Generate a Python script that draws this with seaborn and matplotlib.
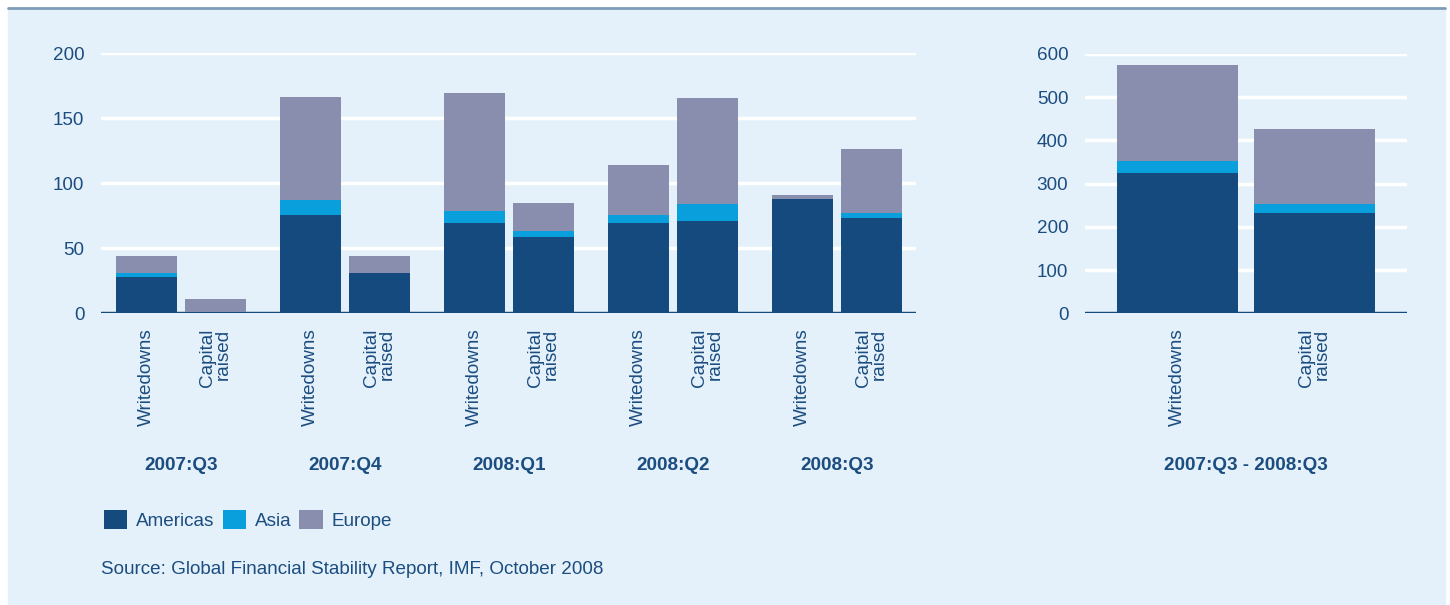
import numpy as np
import pandas as pd
import seaborn as sns
import matplotlib.pyplot as plt
from matplotlib.patches import Rectangle, Patch
from matplotlib.lines import Line2D
import matplotlib.transforms as mtransforms

# data (US$ billions)
quarters = ['2007:Q3', '2007:Q4', '2008:Q1', '2008:Q2', '2008:Q3']
kinds = ['Writedowns', 'Capital\nraised']
americas_wd = [28, 76, 69.5, 69.5, 88]
asia_wd = [3, 11, 9, 6, 0]
europe_wd = [13, 79, 91, 38.5, 3]
americas_cr = [1, 31, 59, 71, 73]
asia_cr = [0, 0, 4, 13, 4]
europe_cr = [10, 13, 22, 81.5, 49]

total_label = '2007:Q3 - 2008:Q3'
americas_tot = [325, 231]
asia_tot = [28, 23]
europe_tot = [222, 173]

regions = ['Americas', 'Asia', 'Europe']
C_AM = '#154a7e'
C_AS = '#089fdc'
C_EU = '#898dae'
BG = '#e4f1fa'
TXT = '#1c4d80'
FS = 13.6

sns.set_style('white')
plt.rcParams['font.family'] = ['Liberation Sans', 'DejaVu Sans']
plt.rcParams['font.size'] = FS

df = pd.DataFrame({
    'quarter': quarters * 2,
    'kind': [kinds[0]] * 5 + [kinds[1]] * 5,
    'Americas': americas_wd + americas_cr,
    'Asia': asia_wd + asia_cr,
    'Europe': europe_wd + europe_cr,
})
df['low'] = df['Americas']
df['mid'] = df['Americas'] + df['Asia']
df['top'] = df['mid'] + df['Europe']

tot = pd.DataFrame({'kind': kinds, 'Americas': americas_tot,
                    'Asia': asia_tot, 'Europe': europe_tot})
tot['low'] = tot['Americas']
tot['mid'] = tot['Americas'] + tot['Asia']
tot['top'] = tot['mid'] + tot['Europe']

fig = plt.figure(figsize=(14.5, 6.05), dpi=100, facecolor='white')
fig.patches.append(Rectangle((8 / 1450, 0), 1437 / 1450, 597 / 605,
                             transform=fig.transFigure, color=BG, zorder=-10))
fig.lines.append(Line2D([8 / 1450, 1445 / 1450], [597.5 / 605, 597.5 / 605],
                        transform=fig.transFigure, color='#7d9cb9', lw=2))

ax1 = fig.add_axes([101 / 1450, 291.7 / 605, 815 / 1450, 260 / 605])
ax2 = fig.add_axes([1085 / 1450, 291.7 / 605, 322 / 1450, 259.3 / 605])

# stacked look: draw the totals first, then the lower layers on top
for col, c in [('top', C_EU), ('mid', C_AS), ('low', C_AM)]:
    sns.barplot(data=df, x='quarter', y=col, hue='kind', order=quarters,
                hue_order=kinds, palette={k: c for k in kinds}, width=0.84,
                gap=0.114, saturation=1, errorbar=None, legend=False,
                linewidth=0, ax=ax1, zorder=3)
    sns.barplot(data=tot, x='kind', y=col, order=kinds, color=c, width=0.883,
                saturation=1, errorbar=None, linewidth=0, ax=ax2, zorder=3)

off = 0.21
ticks1 = [g + d for g in range(len(quarters)) for d in (-off, off)]
labels1 = [k for _ in quarters for k in kinds]

for ax, ymax, step in [(ax1, 200, 50), (ax2, 600, 100)]:
    ax.set_facecolor('none')
    ax.set_ylim(0, ymax)
    ax.set_yticks(np.arange(0, ymax + 1, step))
    ax.yaxis.grid(True, color='white', lw=2.5, zorder=0)
    ax.set_axisbelow(True)
    ax.axhline(0, color=C_AM, lw=2.5, zorder=2)
    for s in ax.spines.values():
        s.set_visible(False)
    ax.tick_params(axis='both', length=0, colors=TXT, labelsize=FS)
    ax.tick_params(axis='y', pad=12)
    ax.tick_params(axis='x', pad=11)
    ax.set_xlabel('')
    ax.set_ylabel('')

ax1.set_xlim(-0.4874, 4.482)
ax1.set_xticks(ticks1)
ax1.set_xticklabels(labels1, rotation=90, va='top', ha='center',
                    ma='right', linespacing=0.95)
ax2.set_xlim(-0.675, 1.675)
ax2.set_xticks([0, 1])
ax2.set_xticklabels(kinds, rotation=90, va='top', ha='center',
                    ma='right', linespacing=0.95)

gy = 140 / 605
tr1 = mtransforms.blended_transform_factory(ax1.transData, fig.transFigure)
for i, q in enumerate(quarters):
    ax1.text(i, gy, q, transform=tr1, ha='center', va='center',
             fontweight='bold', color=TXT, fontsize=FS)
tr2 = mtransforms.blended_transform_factory(ax2.transData, fig.transFigure)
ax2.text(0.5, gy, total_label, transform=tr2, ha='center', va='center',
         fontweight='bold', color=TXT, fontsize=FS)

handles = [Patch(color=c, lw=0) for c in (C_AM, C_AS, C_EU)]
leg = fig.legend(handles, regions, loc='center left',
                 bbox_to_anchor=(104 / 1450, 85 / 605), ncol=3, frameon=False,
                 fontsize=FS, handlelength=1.22, handleheight=1.15,
                 handletextpad=0.48, columnspacing=0.43, borderpad=0,
                 borderaxespad=0)
for t in leg.get_texts():
    t.set_color(TXT)

fig.text(101 / 1450, 36 / 605,
         'Source: Global Financial Stability Report, IMF, October 2008',
         ha='left', va='center', color=TXT, fontsize=FS)

fig.savefig('out.png', dpi=100, facecolor='white')
